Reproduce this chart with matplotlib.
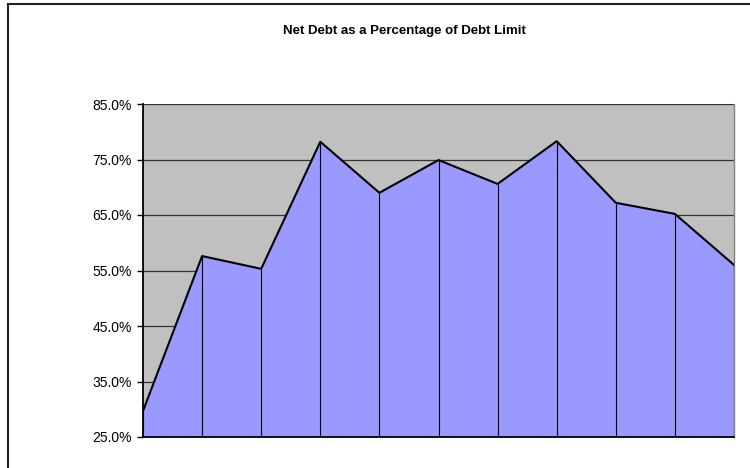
import matplotlib.pyplot as plt
import matplotlib.patches as mpatches

plt.rcParams['font.family'] = ['Liberation Sans', 'DejaVu Sans']

# 資料
periods = list(range(11))
net_debt_pct = [29.7, 57.6, 55.3, 78.2, 69.0, 74.9, 70.6, 78.3, 67.2, 65.2, 56.0]
yticks = [25, 35, 45, 55, 65, 75, 85]

fig = plt.figure(figsize=(7.5, 4.68), dpi=100)
# 外框
fig.patches.append(mpatches.Rectangle((8 / 750, -0.05), 1.0, 1 - 4 / 468 + 0.05,
                                      transform=fig.transFigure, fill=False,
                                      edgecolor='#222222', linewidth=1.5))

ax = fig.add_axes([143 / 750, 1 - 437 / 468, 591 / 750, 333 / 468])
ax.set_facecolor('#C0C0C0')

for y in yticks:
    ax.axhline(y, color='#333333', linewidth=0.9, zorder=1)

ax.fill_between(periods, net_debt_pct, 25, facecolor='#9999FF', edgecolor='none', zorder=2)
ax.plot(periods, net_debt_pct, color='black', linewidth=1.5, zorder=4)
ax.vlines(periods, 25, net_debt_pct, color='black', linewidth=0.8, zorder=3)

ax.set_xlim(0, 10)
ax.set_ylim(25, 85)
ax.set_yticks(yticks)
ax.set_yticklabels([f'{v:.1f}%' for v in yticks], fontsize=10)
ax.set_xticks([])
ax.tick_params(axis='y', length=4, width=1, direction='out', pad=4)

for side in ['left', 'bottom']:
    ax.spines[side].set_color('black')
    ax.spines[side].set_linewidth(1.3)
ax.spines['top'].set_visible(False)
ax.spines['right'].set_color('#808080')
ax.spines['right'].set_linewidth(1)

fig.text(404 / 750, 1 - 31 / 468, 'Net Debt as a Percentage of Debt Limit',
         ha='center', va='center', fontsize=9.5, fontweight='bold')

plt.savefig('out.png', dpi=100)
plt.close()
